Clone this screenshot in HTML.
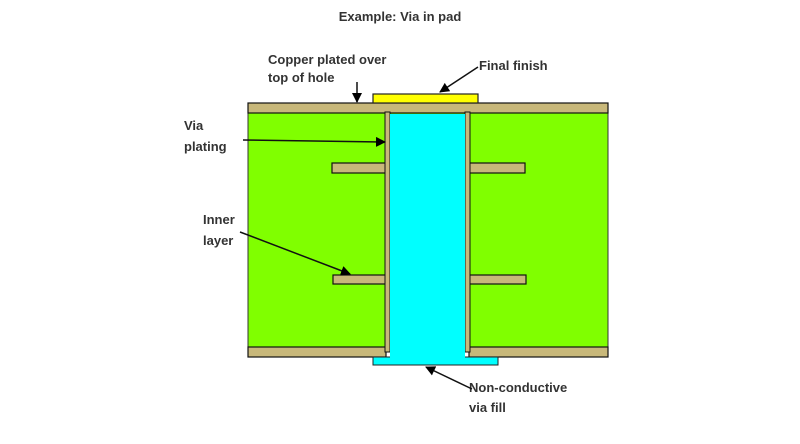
<!DOCTYPE html>
<html><head><style>body{margin:0;background:#fff}svg{display:block}</style></head><body>
<svg width="800" height="444" xmlns="http://www.w3.org/2000/svg" font-family="Liberation Sans, sans-serif">
<defs><marker id="a" markerWidth="10" markerHeight="10" refX="9" refY="5" orient="auto" markerUnits="userSpaceOnUse"><path d="M0,0 L10,5 L0,10 z" fill="#000"/></marker></defs>
<text x="400" y="21" font-size="13" font-weight="bold" text-anchor="middle" fill="#333">Example: Via in pad</text>
<rect x="248" y="112" width="360" height="236" fill="#80ff00" stroke="#333" stroke-width="1"/>
<rect x="248" y="103" width="360" height="10" fill="#c8b87a" stroke="#111" stroke-width="1.2"/>
<rect x="248" y="347" width="138" height="10" fill="#c8b87a" stroke="#111" stroke-width="1.2"/>
<rect x="469" y="347" width="139" height="10" fill="#c8b87a" stroke="#111" stroke-width="1.2"/>
<rect x="332" y="163" width="56" height="10" fill="#c8b87a" stroke="#111" stroke-width="1.2"/>
<rect x="466" y="163" width="59" height="10" fill="#c8b87a" stroke="#111" stroke-width="1.2"/>
<rect x="333" y="275" width="55" height="9" fill="#c8b87a" stroke="#111" stroke-width="1.2"/>
<rect x="466" y="275" width="60" height="9" fill="#c8b87a" stroke="#111" stroke-width="1.2"/>
<rect x="385" y="112" width="5" height="240" fill="#c8b87a" stroke="#111" stroke-width="1"/>
<rect x="465" y="112" width="5" height="240" fill="#c8b87a" stroke="#111" stroke-width="1"/>
<rect x="373" y="357" width="125" height="8" fill="#00ffff" stroke="#222" stroke-width="1"/>
<rect x="390" y="114" width="75" height="250" fill="#00ffff" stroke="none"/>
<rect x="373" y="94" width="105" height="9" fill="#ffff00" stroke="#222" stroke-width="1.2"/>
<g font-size="13" font-weight="bold" fill="#333">
<text x="268" y="64">Copper plated over</text>
<text x="268" y="82">top of hole</text>
<text x="479" y="70">Final finish</text>
<text x="184" y="130">Via</text>
<text x="184" y="151">plating</text>
<text x="203" y="224">Inner</text>
<text x="203" y="245">layer</text>
<text x="469" y="392">Non-conductive</text>
<text x="469" y="412">via fill</text>
</g>
<g stroke="#111" stroke-width="1.5" fill="none" marker-end="url(#a)">
<line x1="357" y1="82" x2="357" y2="102"/>
<line x1="478" y1="67" x2="440" y2="92"/>
<line x1="243" y1="140" x2="385" y2="142"/>
<line x1="240" y1="232" x2="350" y2="274"/>
<line x1="472" y1="389" x2="426" y2="367"/>
</g>
</svg>
</body></html>
